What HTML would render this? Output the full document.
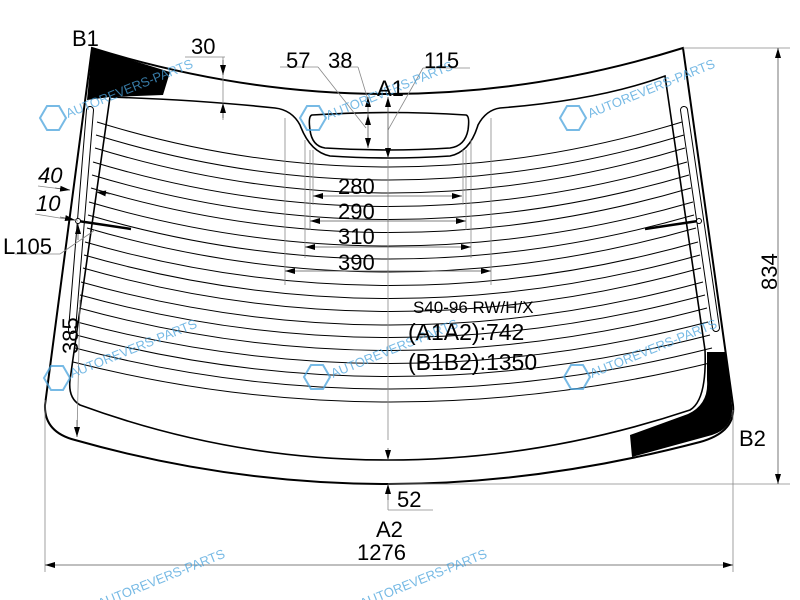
<!DOCTYPE html>
<html><head><style>html,body{margin:0;padding:0;background:#fff}svg{display:block}</style></head><body>
<svg width="800" height="600" viewBox="0 0 800 600" xmlns="http://www.w3.org/2000/svg" font-family="Liberation Sans, sans-serif">
<defs>
<marker id="ar" viewBox="0 0 10 6" refX="10" refY="3" markerWidth="10" markerHeight="6" orient="auto-start-reverse" markerUnits="userSpaceOnUse"><path d="M0,0 L10,3 L0,6 z" fill="#000"/></marker>
</defs>
<path d="M92,48 L170,72 L163,95 L110,97 L87,100 Z" fill="#000"/>
<path d="M707,352 L726,352 L732,405 Q734,428 712,435 L632,457 L630,435 L688,414 Q709,404 707,380 Z" fill="#000"/>
<path d="M92,48 Q388,140 683,48 L733,405 Q736,432 700,442 Q540,484 388,484 Q230,484 75,440 Q44,432 45,405 Z" fill="none" stroke="#000" stroke-width="2"/>
<path d="M110,97 Q200,100 275,108 Q292,110 300,125 Q310,152 330,156 Q388,160 450,156 Q470,152 478,125 Q486,110 500,108 Q600,100 665,76 L705,350 Q707,400 690,410 Q540,460 388,460 Q230,460 80,405 Q68,398 70,380 Z" fill="none" stroke="#000" stroke-width="1.6"/>
<path d="M312,115 Q388,110 466,115 Q470,116 468,130 Q465,146 450,148 Q388,152 325,148 Q312,146 310,130 Q308,116 312,115 Z" fill="none" stroke="#000" stroke-width="1.6"/>
<path d="M90,110 L72,330" stroke="#000" stroke-width="8" stroke-linecap="round" fill="none"/>
<path d="M90,110 L72,330" stroke="#fff" stroke-width="6" stroke-linecap="round" fill="none"/>
<path d="M684,110 L716,328" stroke="#000" stroke-width="8" stroke-linecap="round" fill="none"/>
<path d="M684,110 L716,328" stroke="#fff" stroke-width="6" stroke-linecap="round" fill="none"/>
<g fill="none" stroke="#000" stroke-width="1">
<path d="M97,122 Q388,212 682,122"/>
<path d="M96,135 Q388,225 684,135"/>
<path d="M95,148 Q388,238 685,148"/>
<path d="M93,162 Q388,251 687,162"/>
<path d="M92,175 Q388,264 689,175"/>
<path d="M91,188 Q388,277 691,188"/>
<path d="M89,202 Q388,290 693,202"/>
<path d="M88,215 Q388,303 694,215"/>
<path d="M87,228 Q388,316 696,228"/>
<path d="M85,242 Q388,329 698,242"/>
<path d="M84,255 Q388,342 700,255"/>
<path d="M83,268 Q388,355 701,268"/>
<path d="M81,282 Q388,368 703,282"/>
<path d="M80,295 Q388,380 705,295"/>
<path d="M79,308 Q388,393 707,308"/>
<path d="M77,322 Q388,405 708,322"/>
<path d="M76,335 Q388,418 710,335"/>
<path d="M75,348 Q388,430 712,348"/>
<path d="M73,362 Q388,442 714,362"/>
</g>
<line x1="78" y1="221" x2="131" y2="229" stroke="#000" stroke-width="2.5"/>
<circle cx="78" cy="221" r="2.5" fill="#fff" stroke="#000"/>
<line x1="645" y1="229" x2="698" y2="221" stroke="#000" stroke-width="2.5"/>
<circle cx="699" cy="221" r="2.5" fill="#fff" stroke="#000"/>
<g stroke="#888" stroke-width="0.8" fill="none">
<line x1="285" y1="118" x2="285" y2="285"/><line x1="491" y1="118" x2="491" y2="285"/>
<line x1="305" y1="140" x2="305" y2="258"/><line x1="471" y1="140" x2="471" y2="258"/>
<line x1="310" y1="150" x2="310" y2="230"/><line x1="466" y1="150" x2="466" y2="230"/>
<line x1="313" y1="150" x2="313" y2="205"/><line x1="463" y1="150" x2="463" y2="205"/>
<line x1="185" y1="57" x2="225" y2="57"/><line x1="223" y1="57" x2="223" y2="120"/>
<line x1="280" y1="67" x2="318" y2="67"/><line x1="318" y1="67" x2="366" y2="128"/>
<line x1="330" y1="67" x2="358" y2="67"/><line x1="358" y1="67" x2="368" y2="100"/>
<line x1="423" y1="68" x2="470" y2="68"/><line x1="423" y1="68" x2="388" y2="130"/>
<line x1="388" y1="160" x2="388" y2="440"/>
<line x1="388" y1="484" x2="388" y2="510"/><line x1="388" y1="510" x2="433" y2="510"/>
<line x1="683" y1="48" x2="790" y2="48"/><line x1="388" y1="484" x2="790" y2="484"/>
<line x1="45" y1="400" x2="45" y2="572"/><line x1="733" y1="410" x2="733" y2="572"/>
<line x1="38" y1="186" x2="70" y2="190"/><line x1="35" y1="214" x2="78" y2="221"/>
<line x1="15" y1="254" x2="60" y2="254"/><line x1="60" y1="254" x2="95" y2="230"/>
<line x1="80" y1="300" x2="77" y2="435"/>
</g>
<g stroke="#555" stroke-width="0.8" fill="none">
<line x1="223" y1="60" x2="223" y2="75" marker-end="url(#ar)"/>
<line x1="223" y1="118" x2="223" y2="103" marker-end="url(#ar)"/>
<line x1="368" y1="97" x2="368" y2="148" marker-start="url(#ar)" marker-end="url(#ar)"/>
<line x1="368" y1="122" x2="368" y2="115" marker-end="url(#ar)"/>
<line x1="388" y1="97" x2="388" y2="158" marker-start="url(#ar)" marker-end="url(#ar)"/>
<line x1="313" y1="196" x2="462" y2="196" marker-start="url(#ar)" marker-end="url(#ar)"/>
<line x1="310" y1="221" x2="466" y2="221" marker-start="url(#ar)" marker-end="url(#ar)"/>
<line x1="305" y1="247" x2="471" y2="247" marker-start="url(#ar)" marker-end="url(#ar)"/>
<line x1="285" y1="271" x2="491" y2="271" marker-start="url(#ar)" marker-end="url(#ar)"/>
<line x1="778" y1="48" x2="778" y2="484" marker-start="url(#ar)" marker-end="url(#ar)"/>
<line x1="45" y1="565" x2="733" y2="565" marker-start="url(#ar)" marker-end="url(#ar)"/>
<line x1="388" y1="448" x2="388" y2="460" marker-end="url(#ar)"/>
<line x1="388" y1="500" x2="388" y2="484" marker-end="url(#ar)"/>
<line x1="55" y1="188" x2="70" y2="190" marker-end="url(#ar)"/>
<line x1="110" y1="194" x2="96" y2="192" marker-end="url(#ar)"/>
<line x1="60" y1="217" x2="75" y2="220" marker-end="url(#ar)"/>
<line x1="78" y1="240" x2="78" y2="224" marker-end="url(#ar)"/>
<line x1="77" y1="420" x2="77" y2="437" marker-end="url(#ar)"/>
</g>
<g fill="#4aa3dc" font-size="13" opacity="0.75">
<text transform="translate(68,118) rotate(-22)">AUTOREVERS-PARTS</text>
<text transform="translate(328,120) rotate(-22)">AUTOREVERS-PARTS</text>
<text transform="translate(590,118) rotate(-22)">AUTOREVERS-PARTS</text>
<text transform="translate(72,378) rotate(-22)">AUTOREVERS-PARTS</text>
<text transform="translate(333,378) rotate(-22)">AUTOREVERS-PARTS</text>
<text transform="translate(592,378) rotate(-22)">AUTOREVERS-PARTS</text>
<text transform="translate(100,608) rotate(-22)">AUTOREVERS-PARTS</text>
<text transform="translate(362,608) rotate(-22)">AUTOREVERS-PARTS</text>
</g>
<g fill="none" stroke="#4aa3dc" stroke-width="2" opacity="0.75">
<polygon points="40,118 47,106 59,106 66,118 59,130 47,130"/>
<polygon points="300,118 307,106 319,106 326,118 319,130 307,130"/>
<polygon points="560,118 567,106 579,106 586,118 579,130 567,130"/>
<polygon points="44,378 51,366 63,366 70,378 63,390 51,390"/>
<polygon points="304,377 311,365 323,365 330,377 323,389 311,389"/>
<polygon points="564,377 571,365 583,365 590,377 583,389 571,389"/>
</g>
<g fill="#000" font-size="22">
<text x="72" y="46">B1</text>
<text x="191" y="54">30</text>
<text x="286" y="68">57</text>
<text x="328" y="68">38</text>
<text x="424" y="68">115</text>
<text x="377" y="96">A1</text>
<text x="338" y="194">280</text>
<text x="338" y="219">290</text>
<text x="338" y="244">310</text>
<text x="338" y="270">390</text>
<text x="38" y="183" font-style="italic">40</text>
<text x="36" y="211" font-style="italic">10</text>
<text x="3" y="254">L105</text>
<text transform="translate(78,354) rotate(-90)">385</text>
<text transform="translate(777,290) rotate(-90)">834</text>
<text x="739" y="446">B2</text>
<text x="397" y="507">52</text>
<text x="376" y="537">A2</text>
<text x="357" y="560">1276</text>
<text x="413" y="313" font-size="17">S40-96 RW/H/X</text>
<text x="408" y="340" font-size="23">(A1A2):742</text>
<text x="408" y="370" font-size="23">(B1B2):1350</text>
</g>
</svg>
</body></html>
